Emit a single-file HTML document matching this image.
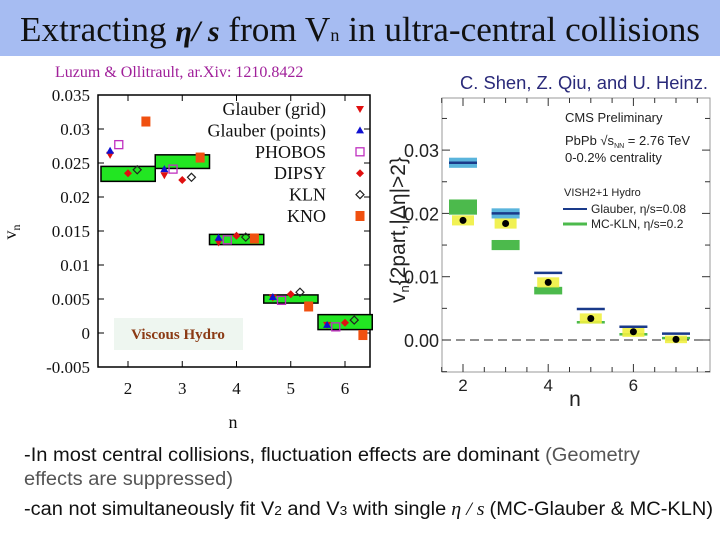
<!DOCTYPE html>
<html><head><meta charset="utf-8"><style>
body{margin:0;width:720px;height:540px;overflow:hidden;background:#fff}
svg{display:block}
.serif{font-family:"Liberation Serif",serif}
.sans{font-family:"Liberation Sans",sans-serif}
</style></head><body>
<svg id="s" width="720" height="540" xmlns="http://www.w3.org/2000/svg">
<rect x="0" y="0" width="720" height="56" fill="#a6bcf2"/>
<text x="20" y="41" textLength="680" lengthAdjust="spacingAndGlyphs" class="serif" font-size="35" fill="#111">Extracting <tspan font-style="italic" font-weight="bold" font-size="30">η/ s</tspan> from V<tspan font-size="18">n</tspan> in ultra-central collisions</text>
<text x="55" y="77" class="serif" font-size="16" fill="#a0209a">Luzum &amp; Ollitrault, ar.Xiv: 1210.8422</text>
<text x="460" y="89" textLength="248" lengthAdjust="spacingAndGlyphs" class="sans" font-size="18" fill="#2a2a7a">C. Shen, Z. Qiu, and U. Heinz.</text>
<g id="left"></g>
<g id="right"></g>
<text x="24" y="461" textLength="616" lengthAdjust="spacingAndGlyphs" class="sans" font-size="19" fill="#111">-In most central collisions, fluctuation effects are dominant <tspan fill="#555">(Geometry</tspan></text>
<text x="24" y="485" textLength="209" lengthAdjust="spacingAndGlyphs" class="sans" font-size="19" fill="#555">effects are suppressed)</text>
<text x="24" y="515" textLength="689" lengthAdjust="spacingAndGlyphs" class="sans" font-size="19" fill="#111">-can not simultaneously fit  V<tspan font-size="13">2</tspan> and V<tspan font-size="13">3</tspan> with single<tspan class="serif" font-style="italic"> η / s </tspan> (MC-Glauber &amp; MC-KLN)</text>
</svg>
<script>
// ---- Left chart data ----
const lnVals=[2,3,4,5,6];
const lBoxLo=[0.0223,0.0242,0.0130,0.0044,0.0005];
const lBoxHi=[0.0245,0.0262,0.0145,0.0056,0.0027];
const glauberGrid=[0.0262,0.0232,0.0133,0.0052,0.0012];
const glauberPoints=[0.0268,0.0241,0.0140,0.0053,0.0012];
const phobos=[0.0277,0.0241,0.0137,0.0048,0.0009];
const dipsy=[0.0235,0.0225,0.0143,0.0057,0.0015];
const kln=[0.0240,0.0229,0.0141,0.0060,0.0019];
const kno=[0.0311,0.0258,0.0139,0.0039,-0.0003];
const lYTicks=[-0.005,0,0.005,0.01,0.015,0.02,0.025,0.03,0.035];
const lYTickLabels=["-0.005","0","0.005","0.01","0.015","0.02","0.025","0.03","0.035"];
// ---- Right chart data ----
const rN=[2,3,4,5,6,7];
const rGlauber=[0.0280,0.0200,0.0106,0.0049,0.0021,0.0010];
const rGlauberBoxHalf=[0.0008,0.0008,0,0,0,0];
const rKLN=[0.0210,0.0150,0.0078,0.0028,0.0009,0.0003];
const rKLNHalf=[0.0012,0.0008,0.0006,0.0002,0.0002,0.0002];
const rCMS=[0.0189,0.0184,0.0091,0.0034,0.0013,0.0001];
const rCMSHalf=[0.0008,0.0008,0.0008,0.0008,0.0008,0.0006];
const rYTicks=[0,0.01,0.02,0.03];
const rYTickLabels=["0.00","0.01","0.02","0.03"];
const rXTicks=[2,4,6];

const NS="http://www.w3.org/2000/svg";
function mk(p,tag,a,txt){const e=document.createElementNS(NS,tag);for(const k in a)e.setAttribute(k,a[k]);if(txt!==undefined)e.textContent=txt;p.appendChild(e);return e;}

// Left
const L=document.getElementById('left');
const lx=n=>128+(n-2)*54.25, ly=v=>95+(0.035-v)/0.005*34;
mk(L,'rect',{x:98,y:95,width:272,height:272,fill:'#fff',stroke:'#000','stroke-width':1.5});
lYTicks.forEach((t,i)=>{const y=ly(t);
 mk(L,'line',{x1:98,y1:y,x2:104,y2:y,stroke:'#000'});mk(L,'line',{x1:364,y1:y,x2:370,y2:y,stroke:'#000'});
 const tx=mk(L,'text',{x:90,y:y+6,'text-anchor':'end','font-size':17,'font-family':'Liberation Serif,serif',fill:'#111'},lYTickLabels[i]);
 
 });
lnVals.forEach((n,i)=>{const x=lx(n);
 mk(L,'line',{x1:x,y1:367,x2:x,y2:361,stroke:'#000'});mk(L,'line',{x1:x,y1:95,x2:x,y2:101,stroke:'#000'});
 const tx=mk(L,'text',{x:x,y:394,'text-anchor':'middle','font-size':17,'font-family':'Liberation Serif,serif',fill:'#111'},String(n));
 
 
 const b=mk(L,'rect',{x:Math.max(98,x-27),y:ly(lBoxHi[i]),width:54.25-(x-27<98?98-(x-27):0),height:ly(lBoxLo[i])-ly(lBoxHi[i]),fill:'#22e622',stroke:'#000','stroke-width':1.5});
 
 });
function marker(p,type,cx,cy){let e;
 if(type==='down')e=mk(p,'polygon',{points:`${cx-4},${cy-3} ${cx+4},${cy-3} ${cx},${cy+4}`,fill:'#e01010'});
 else if(type==='up')e=mk(p,'polygon',{points:`${cx-4},${cy+3} ${cx+4},${cy+3} ${cx},${cy-4}`,fill:'#1010d0'});
 else if(type==='sq')e=mk(p,'rect',{x:cx-4,y:cy-4,width:8,height:8,fill:'none',stroke:'#c030c0','stroke-width':1.3});
 else if(type==='dia')e=mk(p,'polygon',{points:`${cx},${cy-4} ${cx+4},${cy} ${cx},${cy+4} ${cx-4},${cy}`,fill:'#e01010'});
 else if(type==='odia')e=mk(p,'polygon',{points:`${cx},${cy-4} ${cx+4},${cy} ${cx},${cy+4} ${cx-4},${cy}`,fill:'none',stroke:'#222','stroke-width':1.2});
 else e=mk(p,'rect',{x:cx-4.5,y:cy-5,width:9,height:10,fill:'#f05010'});
 return e;}
const series=[[glauberGrid,'down',-0.33,'Glauber (grid)'],[glauberPoints,'up',-0.33,'Glauber (points)'],[phobos,'sq',-0.17,'PHOBOS'],[dipsy,'dia',0,'DIPSY'],[kln,'odia',0.17,'KLN'],[kno,'kno',0.33,'KNO']];
series.forEach((s,k)=>{s[0].forEach((v,i)=>{const m=marker(L,s[1],lx(lnVals[i]+s[2]),ly(v));
 
 });
 const y=109+k*21.4;
 const t=mk(L,'text',{x:326,y:y+6,'text-anchor':'end','font-size':18,'font-family':'Liberation Serif,serif',fill:'#111'},s[3]);
 
 
 marker(L,s[1],360,y);});
mk(L,'rect',{x:114,y:318,width:129,height:32,fill:'#eef6f0'});
const vh=mk(L,'text',{x:178,y:339,'text-anchor':'middle','font-size':15,'font-weight':'bold','font-family':'Liberation Serif,serif',fill:'#8b3a14'},'Viscous Hydro');


const lyl=mk(L,'text',{x:0,y:0,transform:'translate(16,232) rotate(-90)','text-anchor':'middle','font-size':18,'font-family':'Liberation Serif,serif',fill:'#111'},'v');
mk(lyl,'tspan',{'font-size':12,dy:4},'n');


const lxl=mk(L,'text',{x:233,y:428,'text-anchor':'middle','font-size':18,'font-family':'Liberation Serif,serif',fill:'#111'},'n');



// Right
const R=document.getElementById('right');
const rx=n=>463+(n-2)*42.6, ry=v=>340-v*6330;
mk(R,'rect',{x:442,y:98,width:268,height:274,fill:'#fff',stroke:'#999','stroke-width':1});
for(let v=-0.005;v<=0.035;v+=0.005){const y=ry(v);if(y<98||y>372)continue;const maj=Math.abs(v*100-Math.round(v*100))<1e-6;const w=maj?8:5;
 mk(R,'line',{x1:442,y1:y,x2:442+w,y2:y,stroke:'#333'});mk(R,'line',{x1:710-w,y1:y,x2:710,y2:y,stroke:'#333'});}
for(let n=1.5;n<=7.6;n+=0.5){const x=rx(n);const maj=Math.abs(n-Math.round(n/2)*2)<1e-6;const w=maj?8:5;
 mk(R,'line',{x1:x,y1:372,x2:x,y2:372-w,stroke:'#333'});mk(R,'line',{x1:x,y1:98,x2:x,y2:98+w,stroke:'#333'});}
rYTicks.forEach((t,i)=>{const tx=mk(R,'text',{x:439,y:ry(t)+7,'text-anchor':'end','font-size':18,'font-family':'Liberation Sans,sans-serif',fill:'#222'},rYTickLabels[i]);
 
 });
rXTicks.forEach(t=>{const tx=mk(R,'text',{x:rx(t),y:391,'text-anchor':'middle','font-size':17,'font-family':'Liberation Sans,sans-serif',fill:'#222'},String(t));
 
 });
mk(R,'line',{x1:442,y1:ry(0),x2:710,y2:ry(0),stroke:'#222','stroke-dasharray':'9,5'});
rN.forEach((n,i)=>{const x=rx(n),hw=14;
 if(rGlauberBoxHalf[i]>0){const b=mk(R,'rect',{x:x-hw,y:ry(rGlauber[i]+rGlauberBoxHalf[i]),width:2*hw,height:ry(rGlauber[i]-rGlauberBoxHalf[i])-ry(rGlauber[i]+rGlauberBoxHalf[i]),fill:'#5ab4dc'});
 
 }
 const k=mk(R,'rect',{x:x-hw,y:ry(rKLN[i]+rKLNHalf[i]),width:2*hw,height:ry(rKLN[i]-rKLNHalf[i])-ry(rKLN[i]+rKLNHalf[i]),fill:'#4cba4c'});
 
 
 const c=mk(R,'rect',{x:x-11,y:ry(rCMS[i]+rCMSHalf[i]),width:22,height:ry(rCMS[i]-rCMSHalf[i])-ry(rCMS[i]+rCMSHalf[i]),fill:'#f0f040',opacity:0.9});
 
 
 const g=mk(R,'line',{x1:x-hw,y1:ry(rGlauber[i]),x2:x+hw,y2:ry(rGlauber[i]),stroke:'#1a3a8a','stroke-width':2.5});
 
 
 const d=mk(R,'circle',{cx:x,cy:ry(rCMS[i]),r:3.5,fill:'#000'});
 
 });
const tf={'font-size':13,'font-family':'Liberation Sans,sans-serif',fill:'#222'};
mk(R,'text',Object.assign({x:565,y:122},tf),'CMS Preliminary');
const pb=mk(R,'text',Object.assign({x:565,y:145},tf),'PbPb √s');mk(pb,'tspan',{'font-size':7,dy:3},'NN');mk(pb,'tspan',{dy:-3},' = 2.76 TeV');
mk(R,'text',Object.assign({x:565,y:162},tf),'0-0.2% centrality');
mk(R,'text',Object.assign({x:564,y:196},tf,{'font-size':11}),'VISH2+1 Hydro');
mk(R,'line',{x1:563,y1:209,x2:587,y2:209,stroke:'#1a3a8a','stroke-width':2});
mk(R,'text',Object.assign({x:591,y:213},tf,{'font-size':12}),'Glauber, η/s=0.08');
mk(R,'line',{x1:563,y1:224,x2:587,y2:224,stroke:'#4cba4c','stroke-width':3});
mk(R,'text',Object.assign({x:591,y:228},tf,{'font-size':12}),'MC-KLN, η/s=0.2');
const ryl=mk(R,'text',{x:0,y:0,transform:'translate(405,230) rotate(-90)','text-anchor':'middle','font-size':21,'font-family':'Liberation Sans,sans-serif',fill:'#222'},'v');
mk(ryl,'tspan',{'font-size':13,dy:4},'n');mk(ryl,'tspan',{dy:-4},'{2part,|Δη|>2}');


const rxl=mk(R,'text',{x:575,y:406,'text-anchor':'middle','font-size':21,'font-family':'Liberation Sans,sans-serif',fill:'#222'},'n');


</script>
</body></html>
